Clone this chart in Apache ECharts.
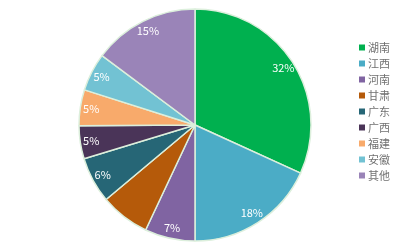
<!DOCTYPE html>
<html><head><meta charset="utf-8">
<script src="https://cdn.jsdelivr.net/npm/echarts@6/dist/echarts.min.js"></script>
<style>html,body{margin:0;padding:0;background:#fff}#c{width:410px;height:246px}</style>
</head><body><div id="c"></div>
<script>
const categories = ['湖南','江西','河南','甘肃','广东','广西','福建','安徽','其他'];
const values = [31.8, 18.2, 7.0, 6.9, 6.4, 4.6, 5.0, 5.3, 14.8];
const hiddenLabels = ['甘肃'];
const colors = ['#00b04f','#4bacc6','#8064a2','#b55a0a','#266676','#4a3458','#f8aa6b','#72c2d3','#9a84b8'];

const chart = echarts.init(document.getElementById('c'));
const font = '"Noto Sans CJK SC", "Microsoft YaHei", sans-serif';
chart.setOption({
  animation: false,
  color: colors,
  legend: {
    orient: 'vertical', left: 354, top: 37,
    itemWidth: 6, itemHeight: 6, itemGap: 5, icon: 'rect',
    itemStyle: {borderWidth: 0},
    textStyle: {fontSize: 11, color: '#707070', fontFamily: font, padding: [0,0,0,-2]},
    data: categories
  },
  series: [{
    type: 'pie', center: [195, 125], radius: [0, 116],
    startAngle: 90, clockwise: true, silent: true,
    itemStyle: {borderColor: '#dcefdc', borderWidth: 1.5},
    label: {show: false}, labelLine: {show: false},
    data: categories.map((n, i) => ({name: n, value: values[i]}))
  }, {
    type: 'pie', center: [195, 125], radius: [88, 116],
    startAngle: 90, clockwise: true, silent: true,
    legendHoverLink: false,
    itemStyle: {color: 'rgba(0,0,0,0)', borderWidth: 0},
    label: {show: true, position: 'inside', color: '#fff', fontSize: 11, fontFamily: font,
      formatter: p => hiddenLabels.includes(p.name) ? '' : Math.round(p.value) + '%'},
    labelLine: {show: false},
    data: categories.map((n, i) => ({name: n, value: values[i]}))
  }]
});
</script></body></html>
